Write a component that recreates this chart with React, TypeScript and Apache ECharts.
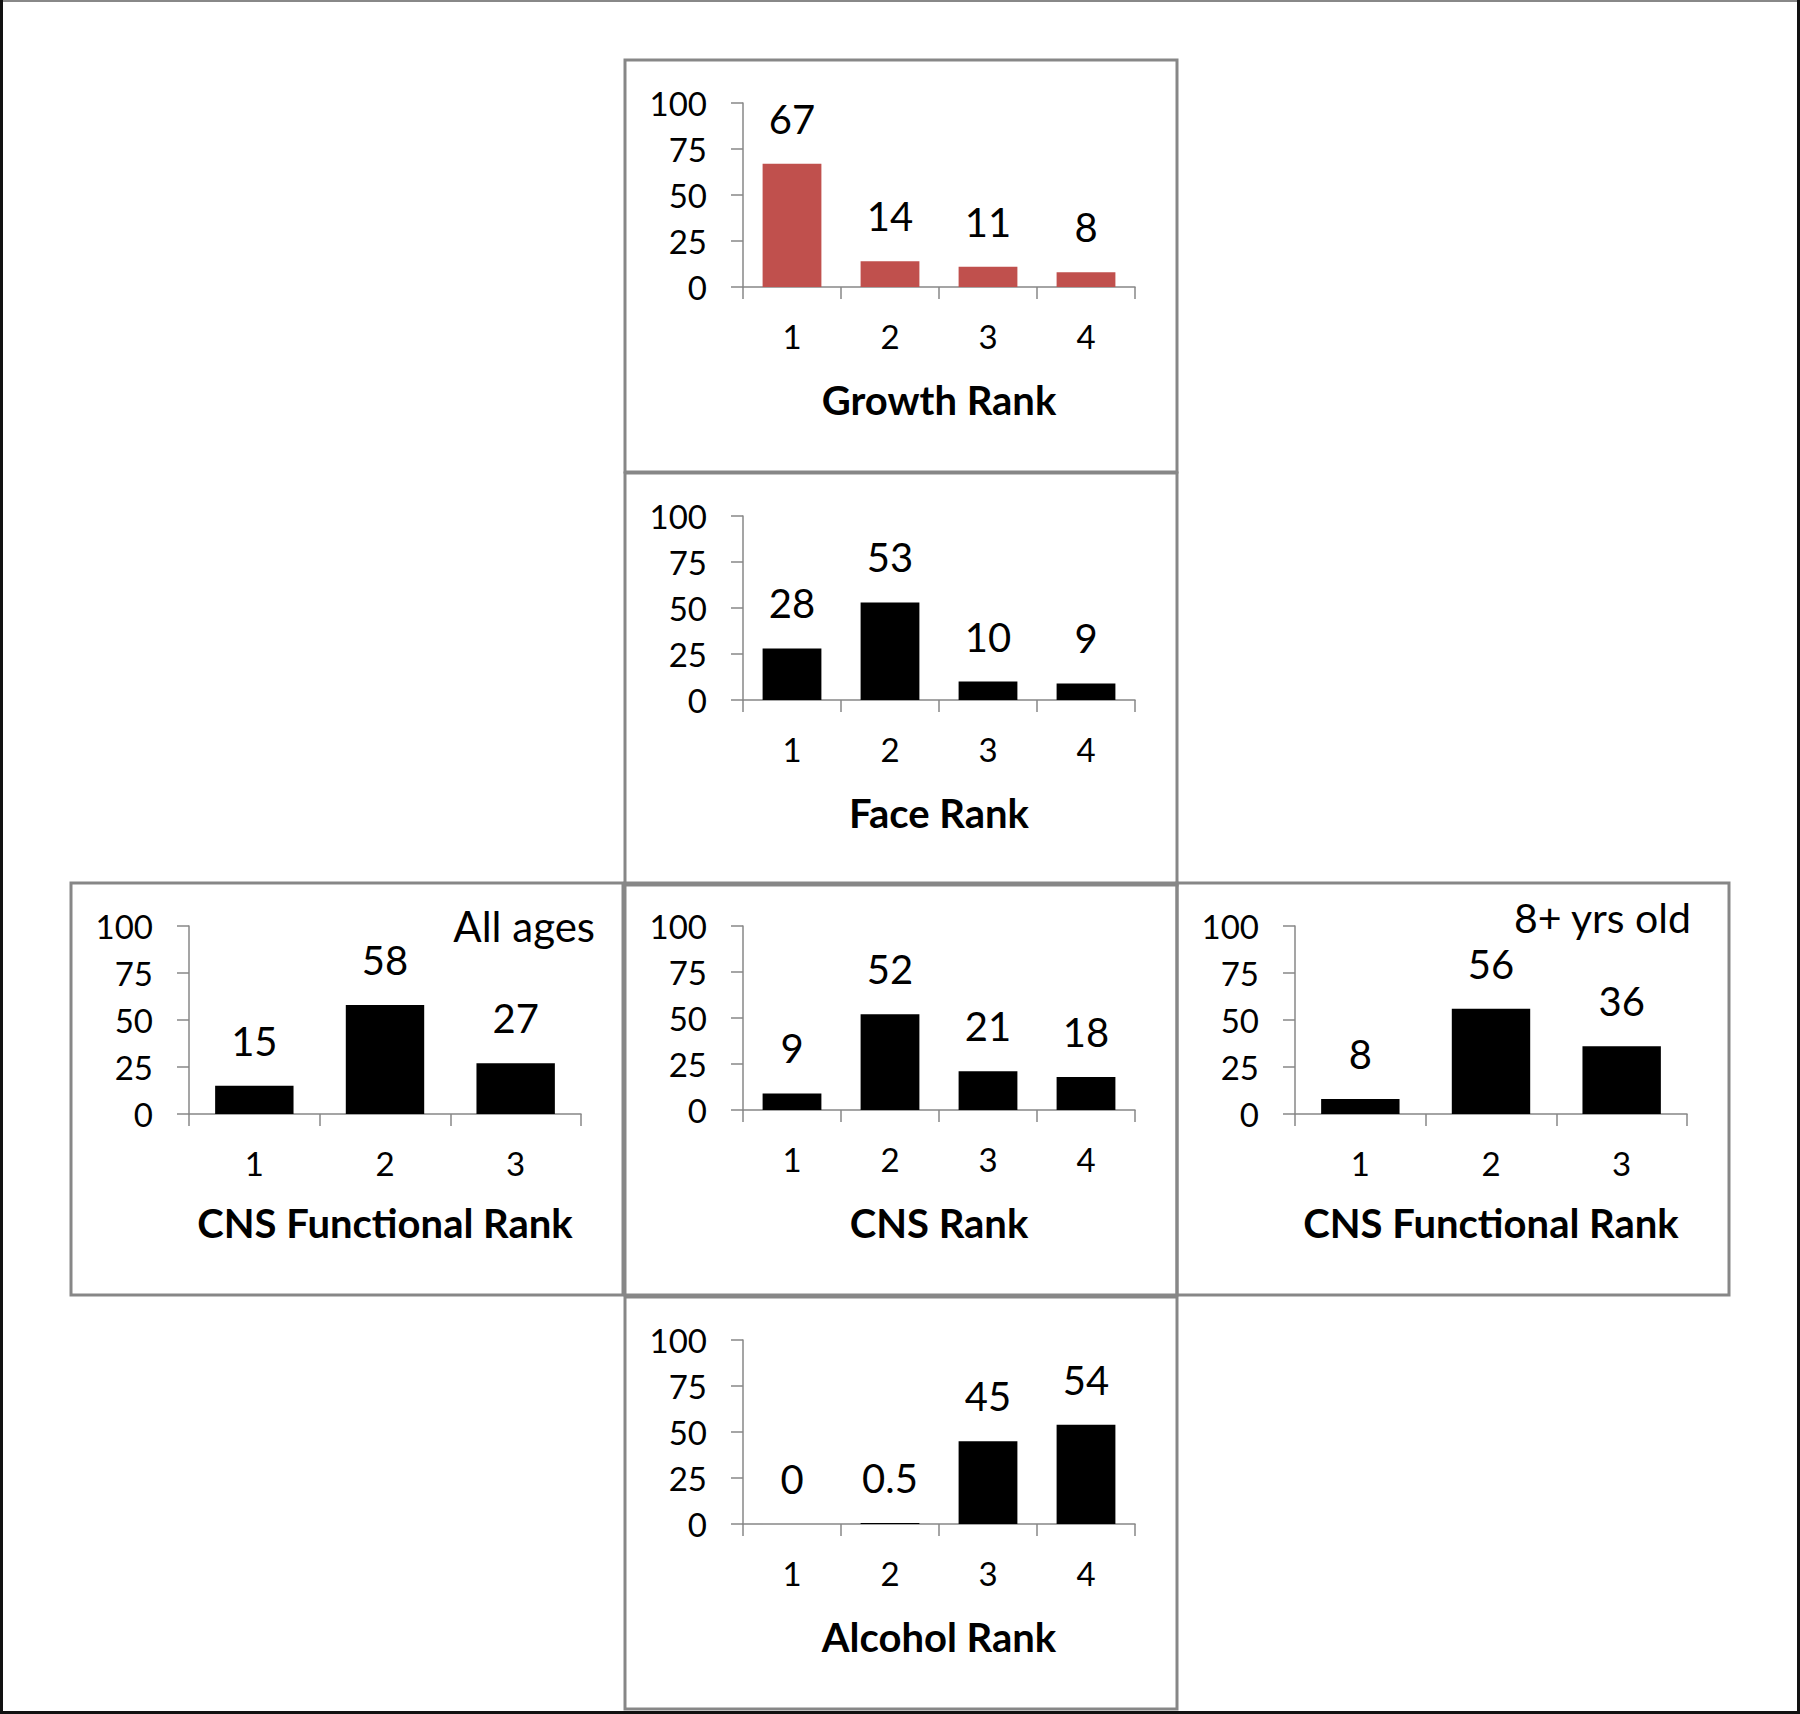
import React, { useEffect, useRef } from "react";
import * as echarts from "echarts";

// ---- data ----
const ranks4 = ["1", "2", "3", "4"];
const ranks3 = ["1", "2", "3"];
const growthValues = [67, 14, 11, 8];
const faceValues = [28, 53, 10, 9];
const cnsFunctionalAllValues = [15, 58, 27];
const cnsValues = [9, 52, 21, 18];
const cnsFunctional8Values = [8, 56, 36];
const alcoholValues = [0, 0.5, 45, 54];
const yMin = 0;
const yMax = 100;
const yStep = 25;

const axisNames = ["Growth Rank", "Face Rank", "CNS Functional Rank", "CNS Rank", "CNS Functional Rank", "Alcohol Rank"];
const annotations = ["All ages", "8+ yrs old"];

// ---- layout ----
const PW = 552;
const PH = 412;
const FONT = "Lato, 'Open Sans', sans-serif";
const RED = "#C0504D";
const GRAY = "#878787";

const panels = [
  { name: axisNames[0], cats: ranks4, values: growthValues, color: RED, x: 625, y: 60, h: 184 },
  { name: axisNames[1], cats: ranks4, values: faceValues, color: "#000000", x: 625, y: 473, h: 184 },
  { name: axisNames[2], cats: ranks3, values: cnsFunctionalAllValues, color: "#000000", x: 71, y: 883, h: 188 },
  { name: axisNames[3], cats: ranks4, values: cnsValues, color: "#000000", x: 625, y: 883, h: 184 },
  { name: axisNames[4], cats: ranks3, values: cnsFunctional8Values, color: "#000000", x: 1177, y: 883, h: 188 },
  { name: axisNames[5], cats: ranks4, values: alcoholValues, color: "#000000", x: 625, y: 1297, h: 184 },
];

function buildOption() {
  const grid: any[] = [];
  const xAxis: any[] = [];
  const yAxis: any[] = [];
  const series: any[] = [];
  const graphic: any[] = [];

  panels.forEach((p, i) => {
    grid.push({ left: p.x + 118, top: p.y + 43, width: 392, height: p.h, containLabel: false });
    xAxis.push({
      type: "category",
      gridIndex: i,
      data: p.cats,
      name: p.name,
      nameLocation: "middle",
      nameGap: 93 - (p.h - 184),
      nameTextStyle: { fontFamily: FONT, fontSize: 40, fontWeight: "bold", color: "#000" },
      axisLine: { show: true, lineStyle: { color: GRAY, width: 1.5 } },
      axisTick: { show: true, length: 12, inside: false, lineStyle: { color: GRAY, width: 1.5 } },
      axisLabel: { fontFamily: FONT, fontSize: 33, color: "#000", margin: 32 },
      splitLine: { show: false },
    });
    yAxis.push({
      type: "value",
      gridIndex: i,
      min: yMin,
      max: yMax,
      interval: yStep,
      axisLine: { show: true, lineStyle: { color: GRAY, width: 1.5 } },
      axisTick: { show: true, length: 12, inside: false, lineStyle: { color: GRAY, width: 1.5 } },
      axisLabel: { fontFamily: FONT, fontSize: 33, color: "#000", margin: 36 },
      splitLine: { show: false },
    });
    series.push({
      type: "bar",
      xAxisIndex: i,
      yAxisIndex: i,
      data: p.values,
      barCategoryGap: "40%",
      itemStyle: { color: p.color },
      label: {
        show: true,
        position: "top",
        distance: 25,
        fontFamily: FONT,
        fontSize: 40,
        color: "#000",
      },
    });
    graphic.push({
      type: "rect",
      shape: { x: p.x, y: p.y, width: PW, height: PH },
      style: { fill: "none", stroke: GRAY, lineWidth: 3 },
      z: 10,
      silent: true,
    });
  });

  // annotations
  graphic.push({
    type: "text",
    x: 595,
    y: 926,
    style: { text: annotations[0], font: `42px ${FONT}`, fill: "#000", textAlign: "right", textVerticalAlign: "middle" },
  });
  graphic.push({
    type: "text",
    x: 1691,
    y: 917,
    style: { text: annotations[1], font: `41px ${FONT}`, fill: "#000", textAlign: "right", textVerticalAlign: "middle" },
  });

  // outer frame
  graphic.push({ type: "line", shape: { x1: 0, y1: 1, x2: 1800, y2: 1 }, style: { stroke: "#888888", lineWidth: 2 }, silent: true });
  graphic.push({ type: "line", shape: { x1: 1.5, y1: 0, x2: 1.5, y2: 1714 }, style: { stroke: "#111111", lineWidth: 3 }, silent: true });
  graphic.push({ type: "line", shape: { x1: 1798.5, y1: 0, x2: 1798.5, y2: 1714 }, style: { stroke: "#111111", lineWidth: 3 }, silent: true });
  graphic.push({ type: "line", shape: { x1: 0, y1: 1712.5, x2: 1800, y2: 1712.5 }, style: { stroke: "#111111", lineWidth: 3 }, silent: true });

  return {
    animation: false,
    backgroundColor: "#ffffff",
    grid,
    xAxis,
    yAxis,
    series,
    graphic,
  };
}

export default function App() {
  const ref = useRef<HTMLDivElement>(null);
  useEffect(() => {
    if (!ref.current) return;
    const chart = echarts.init(ref.current, undefined, { renderer: "svg" });
    chart.setOption(buildOption());
    return () => chart.dispose();
  }, []);
  return (
    <div
      ref={ref}
      style={{ position: "absolute", left: 0, top: 0, width: 1800, height: 1714, background: "#fff" }}
    />
  );
}
